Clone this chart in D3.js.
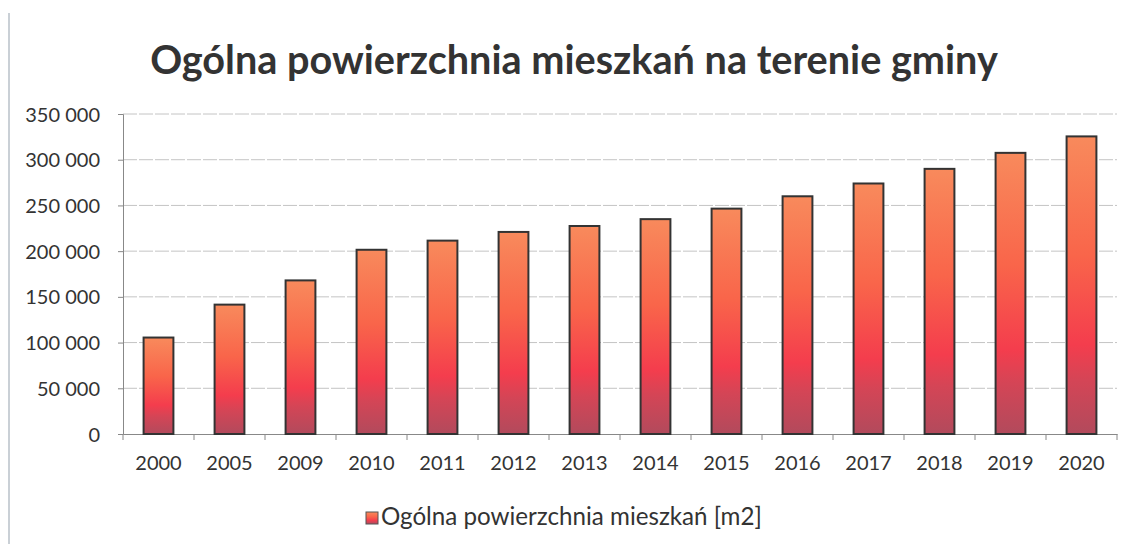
<!DOCTYPE html>
<html>
  <head>
    <meta charset="utf-8">
    <title>Ogólna powierzchnia mieszkań na terenie gminy</title>
    <script src="https://d3js.org/d3.v7.min.js"></script>
    <style>
      body { margin: 0; background: #fff; }
      text { font-family: Lato, "Open Sans", sans-serif; fill: #333; }
    </style>
  </head>
  <body>
    <div id="chart"></div>
    <script>
      // data
      const years = ["2000", "2005", "2009", "2010", "2011", "2012", "2013", "2014", "2015", "2016", "2017", "2018", "2019", "2020"];
      const areaM2 = [105500, 141500, 168000, 201500, 211500, 221000, 227500, 235000, 246500, 260000, 274000, 290000, 307500, 325500];
      const yTicks = [0, 50000, 100000, 150000, 200000, 250000, 300000, 350000];
      const title = "Ogólna powierzchnia mieszkań na terenie gminy";
      const seriesName = "Ogólna powierzchnia mieszkań [m2]";

      const W = 1131, H = 544;
      const margin = { top: 114, right: 14, bottom: 110, left: 123 };
      const width = W - margin.left - margin.right;
      const height = H - margin.top - margin.bottom;

      const svg = d3.select("#chart").append("svg")
        .attr("width", W)
        .attr("height", H);

      // gradient for bars
      const defs = svg.append("defs");
      const grad = defs.append("linearGradient")
        .attr("id", "barGrad")
        .attr("x1", 0).attr("y1", 0).attr("x2", 0).attr("y2", 1);
      [["0%", "#f88a5c"], ["40%", "#f9654a"], ["70%", "#f43d4d"], ["82%", "#d44556"], ["100%", "#b24a5c"]]
        .forEach(([o, c]) => grad.append("stop").attr("offset", o).attr("stop-color", c));

      // page frame edge at left (scan)
      svg.append("line")
        .attr("x1", 9).attr("x2", 9).attr("y1", 13).attr("y2", H)
        .attr("stroke", "#b8c0c8").attr("stroke-width", 1.5);

      const g = svg.append("g").attr("transform", `translate(${margin.left},${margin.top})`);

      const x = d3.scaleBand().domain(years).range([0, width]).paddingInner(0.58).paddingOuter(0.29);
      const y = d3.scaleLinear().domain([0, 350000]).range([height, 0]);

      // gridlines
      g.append("g")
        .selectAll("line")
        .data(yTicks.slice(1))
        .enter()
        .append("line")
        .attr("x1", 0).attr("x2", width)
        .attr("y1", (d) => y(d)).attr("y2", (d) => y(d))
        .attr("stroke", "#c4c4c4")
        .attr("stroke-width", 1)
        .attr("stroke-dasharray", "14,2");

      // y axis
      const fmt = (d) => d3.format(",")(d).replace(/,/g, " ");
      const yAxis = g.append("g")
        .call(d3.axisLeft(y).tickValues(yTicks).tickFormat(fmt).tickSize(5).tickPadding(18));
      yAxis.select(".domain").attr("stroke", "#888");
      yAxis.selectAll(".tick line").attr("stroke", "#888");
      yAxis.selectAll("text").style("font-size", "20px").attr("fill", "#333").attr("dy", "0.35em");

      // x axis, ticks on category boundaries
      const xAxis = g.append("g")
        .attr("transform", `translate(0,${height})`)
        .call(d3.axisBottom(x).tickSize(0).tickPadding(22));
      xAxis.select(".domain").attr("stroke", "#888");
      xAxis.selectAll("text").style("font-size", "20px").attr("fill", "#333");
      const step = x.step();
      g.append("g")
        .selectAll("line")
        .data(d3.range(years.length + 1))
        .enter()
        .append("line")
        .attr("x1", (i) => i * step).attr("x2", (i) => i * step)
        .attr("y1", height).attr("y2", height + 6)
        .attr("stroke", "#888");

      // bars
      g.selectAll(".bar")
        .data(years)
        .enter()
        .append("rect")
        .attr("class", "bar")
        .attr("x", (d) => x(d))
        .attr("width", x.bandwidth())
        .attr("y", (d, i) => y(areaM2[i]))
        .attr("height", (d, i) => height - y(areaM2[i]))
        .attr("fill", "url(#barGrad)")
        .attr("stroke", "#333")
        .attr("stroke-width", 2);

      // title, fitted to the reference width
      const t = svg.append("text")
        .attr("x", 574)
        .attr("y", 74)
        .attr("text-anchor", "middle")
        .style("font-weight", "bold")
        .style("font-size", "36px")
        .attr("fill", "#404040")
        .text(title);
      const tw = t.node().getComputedTextLength();
      t.style("font-size", (36 * 848 / tw) + "px");

      // legend
      const lg = svg.append("g").attr("transform", "translate(366,512)");
      lg.append("rect")
        .attr("width", 12).attr("height", 12)
        .attr("fill", "url(#barGrad)")
        .attr("stroke", "#555").attr("stroke-width", 1);
      const lt = lg.append("text")
        .attr("x", 15).attr("y", 13)
        .style("font-size", "20px")
        .attr("fill", "#333")
        .text(seriesName);
      const lw = lt.node().getComputedTextLength();
      lt.style("font-size", (20 * 381 / lw) + "px");
    </script>
  </body>
</html>
